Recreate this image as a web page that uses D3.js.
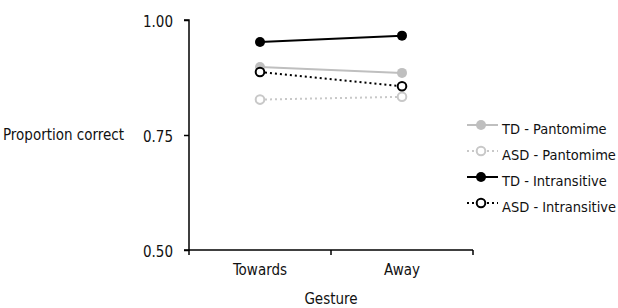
<!DOCTYPE html>
<html>
<head>
<meta charset="utf-8">
<script src="https://cdn.jsdelivr.net/npm/d3@7"></script>
<style>
body{margin:0;background:#fff;}
text{font-family:"DejaVu Sans Condensed",sans-serif;fill:#111;}
</style>
</head>
<body>
<div id="chart"></div>
<script>
var categories = ["Towards","Away"];
var seriesNames = ["TD - Pantomime","ASD - Pantomime","TD - Intransitive","ASD - Intransitive"];
var tdPantomime = [0.898,0.885];
var asdPantomime = [0.827,0.833];
var tdIntransitive = [0.952,0.966];
var asdIntransitive = [0.887,0.856];
var yTicks = [0.50,0.75,1.00];

var series = [
	{name:seriesNames[0],values:tdPantomime,color:"#bfbfbf",dash:null,open:false},
	{name:seriesNames[1],values:asdPantomime,color:"#c8c8c8",dash:"2,3",open:true},
	{name:seriesNames[2],values:tdIntransitive,color:"#000",dash:null,open:false},
	{name:seriesNames[3],values:asdIntransitive,color:"#000",dash:"2,3",open:true}
];

var width = 618, height = 308;
var margin = {top:20,left:189,right:145,bottom:58};
var innerWidth = width - margin.left - margin.right;
var innerHeight = height - margin.top - margin.bottom;

var svg = d3.select("#chart").append("svg")
	.attr("width",width)
	.attr("height",height);

var xscale = d3.scaleBand().domain(categories).range([0,innerWidth]);
var yscale = d3.scaleLinear().domain([0.5,1]).range([innerHeight,0]);

var g = svg.append("g").attr("transform","translate("+margin.left+","+margin.top+")");

// y axis
var yaxis = d3.axisLeft(yscale).tickValues(yTicks).tickFormat(d3.format(".2f")).tickSize(5).tickPadding(11);
var ya = g.append("g").call(yaxis);
ya.selectAll("path,line").attr("stroke","#000").attr("stroke-width",1.5);
ya.select(".domain").attr("d","M-5,"+innerHeight+"H0V0H-5");
ya.selectAll("text").attr("dy","0.45em").style("font-size","15px").style("font-family","'DejaVu Sans Condensed',sans-serif").style("fill","#111");

// x axis, ticks on band edges
var xa = g.append("g").attr("transform","translate(0,"+innerHeight+")");
xa.append("line").attr("x1",0).attr("x2",innerWidth).attr("stroke","#000").attr("stroke-width",1.5);
xa.selectAll(".tk").data([0,xscale.bandwidth(),innerWidth]).enter().append("line")
	.attr("x1",d=>d).attr("x2",d=>d).attr("y1",0).attr("y2",5)
	.attr("stroke","#000").attr("stroke-width",1.5);
xa.selectAll(".lbl").data(categories).enter().append("text")
	.attr("x",d=>xscale(d)+xscale.bandwidth()/2).attr("y",25)
	.attr("text-anchor","middle").style("font-size","15px").text(d=>d);

svg.append("text").attr("x",margin.left+innerWidth/2).attr("y",304)
	.attr("text-anchor","middle").style("font-size","15px").text("Gesture");
svg.append("text").attr("x",3).attr("y",yscale(0.75)+margin.top+5)
	.style("font-size","15px").text("Proportion correct");

var cx = d => xscale(d)+xscale.bandwidth()/2;
var line = d3.line().x((d,i)=>cx(categories[i])).y(d=>yscale(d));

series.forEach(s => {
	g.append("path").datum(s.values)
		.attr("d",line).attr("fill","none")
		.attr("stroke",s.color).attr("stroke-width",2)
		.attr("stroke-dasharray",s.dash);
	g.selectAll(null).data(s.values).enter().append("circle")
		.attr("cx",(d,i)=>cx(categories[i])).attr("cy",d=>yscale(d))
		.attr("r",s.open?4.3:5)
		.attr("fill",s.open?"#fff":s.color)
		.attr("stroke",s.color).attr("stroke-width",s.open?2:0);
});

// legend
var lg = svg.append("g").attr("transform","translate(467,125)");
series.forEach((s,i) => {
	var row = lg.append("g").attr("transform","translate(0,"+(i*26)+")");
	row.append("line").attr("x1",0).attr("x2",31)
		.attr("stroke",s.color).attr("stroke-width",2).attr("stroke-dasharray",s.dash);
	row.append("circle").attr("cx",14).attr("r",s.open?4.3:5)
		.attr("fill",s.open?"#fff":s.color).attr("stroke",s.color).attr("stroke-width",s.open?2:0);
	row.append("text").attr("x",35).attr("y",9).style("font-size","14.5px").text(s.name);
});
</script>
</body>
</html>
